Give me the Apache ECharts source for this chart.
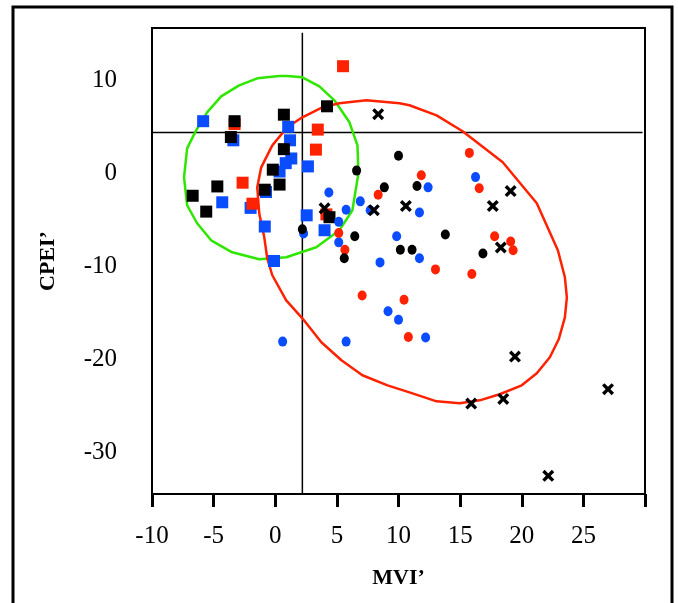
<!DOCTYPE html>
<html>
<head>
<meta charset="utf-8">
<script src="https://cdn.jsdelivr.net/npm/echarts@6/dist/echarts.min.js"></script>
<style>
html,body{margin:0;padding:0;background:#fff;}
#chart{width:678px;height:603px;}
</style>
</head>
<body>
<div id="chart"></div>
<script>
// ---- data ----
var xTickLabels = ['-10', '-5', '0', '5', '10', '15', '20', '25'];
var yTickLabels = ['10', '0', '-10', '-20', '-30'];
var xAxisTitle = 'MVI\u2019';
var yAxisTitle = 'CPEI\u2019';

var refLineX = 2.2;   // vertical reference line (MVI')
var refLineY = 3.8;   // horizontal reference line (CPEI')

var blackSquares = [[-3.3,5.0],[0.7,5.7],[4.2,6.6],[-3.6,3.3],[0.7,2.0],[-0.2,-0.2],[0.35,-1.8],[-4.7,-2.0],[-6.7,-3.0],[-0.85,-2.35],[-5.6,-4.7],[4.4,-5.3]];
var blueSquares = [[-5.85,5.0],[-3.4,2.95],[1.05,4.4],[1.2,2.95],[1.3,1.0],[0.85,0.5],[0.35,-0.4],[2.65,0.15],[-0.75,-2.6],[-2.0,-4.3],[-4.3,-3.7],[-0.85,-6.3],[2.55,-5.1],[4.0,-6.7],[-0.1,-10.0]];
var redSquares = [[5.5,10.9],[-3.3,4.7],[3.45,4.1],[3.3,1.95],[-2.65,-1.6],[-1.85,-3.85],[4.15,-5.0]];
var blackCircles = [[6.6,-0.3],[10.0,1.3],[8.85,-2.1],[11.5,-1.95],[2.2,-6.6],[6.45,-7.35],[5.6,-9.7],[10.15,-8.8],[11.1,-8.8],[13.8,-7.15],[16.85,-9.2]];
var blueCircles = [[4.35,-2.65],[6.9,-3.6],[5.75,-4.5],[7.7,-4.55],[5.15,-5.8],[2.3,-7.05],[5.15,-8.0],[8.5,-10.15],[9.85,-7.35],[12.4,-2.1],[11.7,-4.8],[11.7,-9.7],[16.25,-1.0],[9.15,-15.4],[10.0,-16.3],[12.2,-18.2],[0.6,-18.65],[5.75,-18.65]];
var redCircles = [[8.35,-2.9],[11.85,-0.8],[15.75,1.6],[16.55,-2.2],[5.15,-7.0],[5.65,-8.8],[17.8,-7.35],[19.1,-7.9],[19.3,-8.85],[13.0,-10.9],[15.95,-11.4],[7.05,-13.7],[10.45,-14.15],[10.8,-18.15]];
var blackCrosses = [[8.35,5.75],[4.0,-4.35],[8.0,-4.55],[10.6,-4.1],[17.65,-4.1],[19.1,-2.5],[18.3,-8.55],[19.45,-20.25],[18.5,-24.8],[15.9,-25.3],[27.0,-23.75],[22.15,-33.05]];

var greenEllipse = [[0.98,9.85],[2.2,9.71],[3.58,8.74],[4.8,7.24],[6.02,4.88],[6.67,2.41],[6.75,-0.59],[6.26,-4.56],[5.2,-6.71],[3.33,-8.53],[0.89,-9.6],[-1.3,-9.82],[-3.5,-9.07],[-5.2,-7.78],[-6.34,-5.95],[-7.15,-4.02],[-7.4,-1.02],[-7.15,2.09],[-6.42,4.02],[-5.53,5.95],[-4.39,7.67],[-2.93,8.85],[-1.46,9.6],[0.33,9.85],[0.98,9.85]];
var redEllipse = [[-0.24,2.41],[0.98,4.35],[2.2,5.42],[3.82,6.49],[5.2,6.92],[7.4,7.24],[10.08,6.92],[10.89,6.71],[13.09,5.63],[15.2,3.92],[18.46,0.59],[21.22,-3.81],[22.93,-8.85],[23.5,-11.75],[23.66,-13.9],[23.5,-16.04],[23.0,-18.4],[22.28,-20.33],[21.22,-22.05],[20.0,-23.34],[18.21,-24.3],[16.59,-24.95],[14.96,-25.27],[13.09,-25.06],[10.89,-24.09],[9.11,-23.34],[7.07,-22.26],[5.37,-20.65],[3.74,-18.72],[2.2,-16.15],[0.89,-14.22],[-0.24,-11.53],[-0.65,-9.71],[-0.89,-7.46],[-1.3,-4.88],[-1.46,-2.09],[-1.14,0.05],[-0.24,2.41]];

// ---- chart ----
var BLUE = '#0a4cff', RED = '#ff2200', GREEN = '#2ee600', BLACK = '#000000';
var crossPath = 'path://M2,0 L5,3 L8,0 L10,2 L7,5 L10,8 L8,10 L5,7 L2,10 L0,8 L3,5 L0,2 Z';
var FONT = 'Liberation Serif';

var chart = echarts.init(document.getElementById('chart'), null, {renderer: 'canvas'});

function scatter(name, data, symbol, size, color, z) {
  return {
    name: name, type: 'scatter', data: data, symbol: symbol, symbolSize: size,
    itemStyle: {color: color, opacity: 1}, z: z, silent: true, animation: false
  };
}

var option = {
  backgroundColor: '#ffffff',
  animation: false,
  grid: {left: 152, top: 28, right: 33, bottom: 109, show: true, borderColor: '#000', borderWidth: 2, backgroundColor: 'transparent'},
  xAxis: {
    type: 'value', min: -10, max: 30, interval: 5,
    name: xAxisTitle, nameLocation: 'middle', nameGap: 73,
    nameTextStyle: {fontFamily: FONT, fontWeight: 'bold', fontSize: 22, color: '#000'},
    axisLine: {show: true, onZero: false, lineStyle: {color: '#000', width: 2}},
    axisTick: {show: true, length: 13, lineStyle: {color: '#000', width: 3}},
    splitLine: {show: false},
    axisLabel: {
      margin: 30, fontFamily: FONT, fontSize: 25, color: '#000', showMinLabel: true, showMaxLabel: true,
      formatter: function (v) { var i = Math.round((v + 10) / 5); return xTickLabels[i] !== undefined ? xTickLabels[i] : ''; }
    }
  },
  yAxis: {
    type: 'value', min: -35, max: 15, interval: 5,
    name: yAxisTitle, nameLocation: 'middle', nameGap: 93, nameRotate: 90,
    nameTextStyle: {fontFamily: FONT, fontWeight: 'bold', fontSize: 22, color: '#000'},
    axisLine: {show: true, onZero: false, lineStyle: {color: '#000', width: 2}},
    axisTick: {show: false},
    splitLine: {show: false},
    axisLabel: {
      margin: 35, color: '#000',
      formatter: function (v) { var s = String(v); return yTickLabels.indexOf(s) >= 0 ? '{t|' + s + '}' : ''; },
      rich: {t: {fontFamily: FONT, fontSize: 25, color: '#000', padding: [11, 0, 0, 0]}}
    }
  },
  graphic: [{
    type: 'rect', shape: {x: 13, y: 7, width: 659, height: 700},
    style: {fill: 'none', stroke: '#000', lineWidth: 3}, silent: true, z: 100
  }],
  series: [
    {type: 'line', data: [[refLineX, -35], [refLineX, 14.5]], symbol: 'none', lineStyle: {color: '#000', width: 1.5}, z: 1, silent: true, animation: false},
    {type: 'line', data: [[-10, refLineY], [29.8, refLineY]], symbol: 'none', lineStyle: {color: '#000', width: 1.5}, z: 1, silent: true, animation: false},
    {type: 'line', data: greenEllipse, symbol: 'none', smooth: false, lineStyle: {color: GREEN, width: 2.5}, z: 2, silent: true, animation: false},
    {type: 'line', data: redEllipse, symbol: 'none', smooth: false, lineStyle: {color: RED, width: 2.5}, z: 2, silent: true, animation: false},
    scatter('blueSq', blueSquares, 'rect', 12, BLUE, 3),
    scatter('redSq', redSquares, 'rect', 12, RED, 4),
    scatter('blackSq', blackSquares, 'rect', 12, BLACK, 5),
    scatter('blueCi', blueCircles, 'circle', [9, 10], BLUE, 6),
    scatter('redCi', redCircles, 'circle', [9, 10], RED, 7),
    scatter('blackCi', blackCircles, 'circle', [9, 10], BLACK, 8),
    scatter('cross', blackCrosses, crossPath, 12, BLACK, 9)
  ]
};
chart.setOption(option);
</script>
</body>
</html>
